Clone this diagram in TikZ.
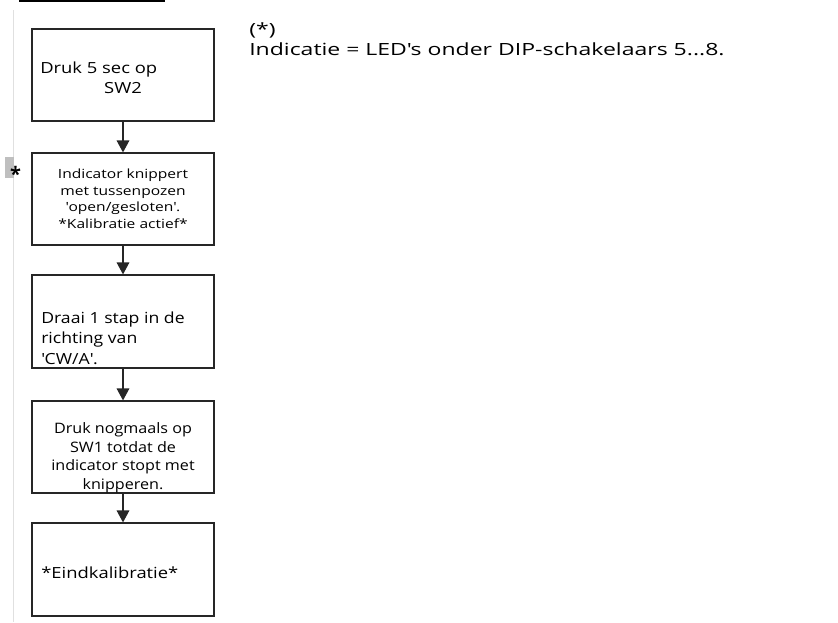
\documentclass[tikz,border=0pt]{standalone}
\usepackage{fontspec}
\setmainfont{Open Sans}
\newfontfamily\fbig[FakeStretch=1.2]{Open Sans}
\newfontfamily\fdraai[FakeStretch=1.15]{Open Sans}
\newfontfamily\fsmall[FakeStretch=1.23]{Open Sans}
\newfontfamily\fmid[FakeStretch=1.12]{Open Sans}
\newfontfamily\fnote[FakeStretch=1.37]{Open Sans}
\usetikzlibrary{arrows.meta}
\newcommand{\q}{\textquotesingle}
\begin{document}
\begin{tikzpicture}[x=0.75pt,y=-0.75pt,
  stepbox/.style={draw=black!85,line width=0.9pt,rectangle,inner sep=0pt},
  flow/.style={draw=black!85,line width=0.9pt,-{Triangle[width=9.5pt,length=9pt]}},
  big/.style={font=\fbig\fontsize{11.5pt}{14pt}\selectfont,inner sep=0pt},
  draai/.style={font=\fdraai\fontsize{11.5pt}{14pt}\selectfont,inner sep=0pt},
  small/.style={font=\fsmall\fontsize{9.5pt}{12pt}\selectfont,inner sep=0pt},
  mid/.style={font=\fmid\fontsize{10.8pt}{13pt}\selectfont,inner sep=0pt},
  note/.style={font=\fnote\fontsize{12.6pt}{15pt}\selectfont,inner sep=0pt}]
\useasboundingbox (0,0) rectangle (838,622);
% decorations
\coordinate (tl1) at (19,0.8);
\coordinate (tl2) at (165,0.8);
\draw[line width=1.2pt,black] (tl1) -- (tl2);
\coordinate (gl1) at (13.5,10);
\coordinate (gl2) at (13.5,622);
\draw[line width=0.8pt,black!12] (gl1) -- (gl2);
\fill[black!25] (5,157) rectangle (14,178);
\node[font=\bfseries\fontsize{15pt}{15pt}\selectfont,inner sep=0pt] (star) at (15.5,174) {*};
% boxes
\node[stepbox,minimum width=136.5pt,minimum height=69pt] (b1) at (123,75) {};
\node[stepbox,minimum width=136.5pt,minimum height=69pt] (b2) at (123,199) {};
\node[stepbox,minimum width=136.5pt,minimum height=69.75pt] (b3) at (123,321.5) {};
\node[stepbox,minimum width=136.5pt,minimum height=69pt] (b4) at (123,447) {};
\node[stepbox,minimum width=136.5pt,minimum height=69.75pt] (b5) at (123,569.5) {};
\draw[flow] (b1) -- (b2);
\draw[flow] (b2) -- (b3);
\draw[flow] (b3) -- (b4);
\draw[flow] (b4) -- (b5);
% texts
\node[big,anchor=base west] (t1a) at (40,73) {Druk 5 sec op};
\node[big,anchor=base] (t1b) at (123,93) {SW2};
\node[small,anchor=base] (t2a) at (123,178.3) {Indicator knippert};
\node[small,anchor=base] (t2b) at (123,195) {met tussenpozen};
\node[small,anchor=base] (t2c) at (123,211.7) {\q open/gesloten\q.};
\node[small,anchor=base] (t2d) at (123,228.3) {*Kalibratie actief*};
\node[draai,anchor=base west] (t3a) at (41,323.3) {Draai 1 stap in de};
\node[draai,anchor=base west] (t3b) at (41,343.8) {richting van};
\node[draai,anchor=base west] (t3c) at (41,364.3) {\q CW/A\q.};
\node[mid,anchor=base] (t4a) at (123,433.3) {Druk nogmaals op};
\node[mid,anchor=base] (t4b) at (123,452) {SW1 totdat de};
\node[mid,anchor=base] (t4c) at (123,470.5) {indicator stopt met};
\node[mid,anchor=base] (t4d) at (123,489) {knipperen.};
\node[big,anchor=base west] (t5) at (41,578) {*Eindkalibratie*};
\node[note,anchor=base west] (n1) at (249,35) {(*)};
\node[note,anchor=base west] (n2) at (249,55) {Indicatie = LED\q s onder DIP-schakelaars 5...8.};
\end{tikzpicture}
\end{document}
